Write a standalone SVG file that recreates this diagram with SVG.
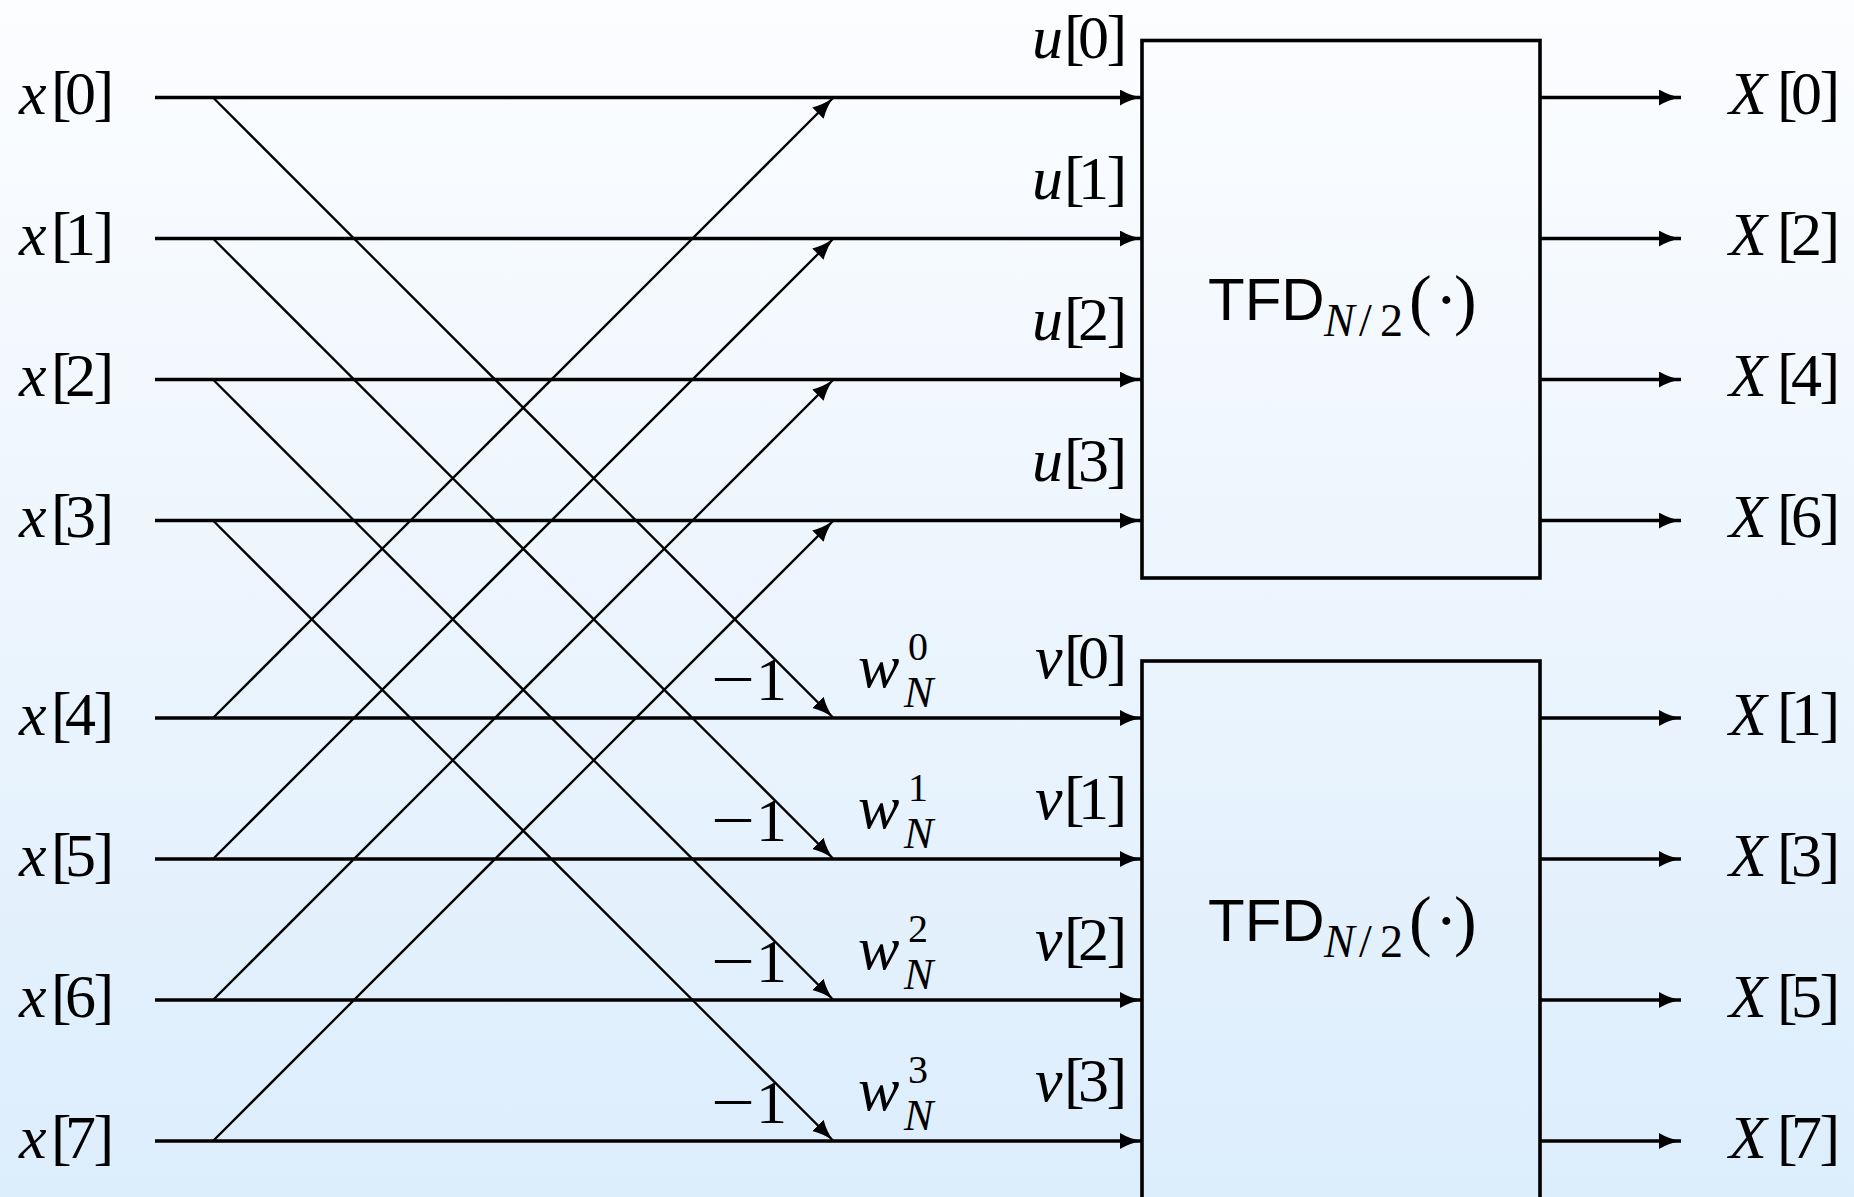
<svg xmlns="http://www.w3.org/2000/svg" width="1854" height="1197" viewBox="0 0 1854 1197">
<defs>
<linearGradient id="bg" x1="0" y1="0" x2="0" y2="1">
<stop offset="0" stop-color="#fcfdff"/>
<stop offset="1" stop-color="#dcedfc"/>
</linearGradient>
<marker id="arr" markerUnits="userSpaceOnUse" markerWidth="24" markerHeight="18" refX="22" refY="8" orient="auto" viewBox="0 0 24 18">
<path d="M0,0 Q10,6 22,8 Q10,10 0,16 Z" fill="#000"/>
</marker>
<style>
.h{stroke:#000;stroke-width:3.6;fill:none;marker-end:url(#arr)}
.d{stroke:#000;stroke-width:2.3;fill:none;marker-end:url(#arr)}
.box{stroke:#000;stroke-width:3.6;fill:none}
text{font-family:"Liberation Serif","Times New Roman",serif;font-size:62px;fill:#000}
.i{font-style:italic}
.sans{font-family:"Liberation Sans",Arial,sans-serif;font-size:60px}
.sm{font-size:46px}
.par{font-size:68px}
.sub{font-size:44px}
.sup{font-size:40px}
</style>
</defs>
<rect x="0" y="0" width="1854" height="1197" fill="url(#bg)"/>

<g id="connectors">
<line class="h" x1="155" y1="97.5" x2="1142" y2="97.5"/>
<line class="h" x1="155" y1="238.5" x2="1142" y2="238.5"/>
<line class="h" x1="155" y1="379.5" x2="1142" y2="379.5"/>
<line class="h" x1="155" y1="520.5" x2="1142" y2="520.5"/>
<line class="h" x1="155" y1="718" x2="1142" y2="718"/>
<line class="h" x1="155" y1="859" x2="1142" y2="859"/>
<line class="h" x1="155" y1="1000" x2="1142" y2="1000"/>
<line class="h" x1="155" y1="1141" x2="1142" y2="1141"/>

<line class="d" x1="213" y1="97.5" x2="833.5" y2="718"/>
<line class="d" x1="213" y1="238.5" x2="833.5" y2="859"/>
<line class="d" x1="213" y1="379.5" x2="833.5" y2="1000"/>
<line class="d" x1="213" y1="520.5" x2="833.5" y2="1141"/>
<line class="d" x1="213" y1="718" x2="833.5" y2="97.5"/>
<line class="d" x1="213" y1="859" x2="833.5" y2="238.5"/>
<line class="d" x1="213" y1="1000" x2="833.5" y2="379.5"/>
<line class="d" x1="213" y1="1141" x2="833.5" y2="520.5"/>

<line class="h" x1="1540" y1="97.5" x2="1681" y2="97.5"/>
<line class="h" x1="1540" y1="238.5" x2="1681" y2="238.5"/>
<line class="h" x1="1540" y1="379.5" x2="1681" y2="379.5"/>
<line class="h" x1="1540" y1="520.5" x2="1681" y2="520.5"/>
<line class="h" x1="1540" y1="718" x2="1681" y2="718"/>
<line class="h" x1="1540" y1="859" x2="1681" y2="859"/>
<line class="h" x1="1540" y1="1000" x2="1681" y2="1000"/>
<line class="h" x1="1540" y1="1141" x2="1681" y2="1141"/>
</g>

<g id="box-top">
<rect class="box" x="1142" y="40.5" width="398" height="537.5"/>
<text y="320"><tspan class="sans" x="1208">TFD</tspan><tspan class="sm i" x="1324" y="336">N</tspan><tspan class="sm" x="1359 1380" y="336">/2</tspan><tspan class="par" x="1409 1435 1454" y="322">(·)</tspan></text>
</g>
<g id="box-bottom">
<rect class="box" x="1142" y="661" width="398" height="560"/>
<text y="941"><tspan class="sans" x="1208">TFD</tspan><tspan class="sm i" x="1324" y="957">N</tspan><tspan class="sm" x="1359 1380" y="957">/2</tspan><tspan class="par" x="1409 1435 1454" y="943">(·)</tspan></text>
</g>

<g id="inputs">
<g id="in-0"><text y="114"><tspan class="i" x="19">x</tspan><tspan x="51 65 93.5">[0]</tspan></text></g>
<g id="in-1"><text y="255"><tspan class="i" x="19">x</tspan><tspan x="51 65 93.5">[1]</tspan></text></g>
<g id="in-2"><text y="396"><tspan class="i" x="19">x</tspan><tspan x="51 65 93.5">[2]</tspan></text></g>
<g id="in-3"><text y="537"><tspan class="i" x="19">x</tspan><tspan x="51 65 93.5">[3]</tspan></text></g>
<g id="in-4"><text y="734.5"><tspan class="i" x="19">x</tspan><tspan x="51 65 93.5">[4]</tspan></text></g>
<g id="in-5"><text y="875.5"><tspan class="i" x="19">x</tspan><tspan x="51 65 93.5">[5]</tspan></text></g>
<g id="in-6"><text y="1016.5"><tspan class="i" x="19">x</tspan><tspan x="51 65 93.5">[6]</tspan></text></g>
<g id="in-7"><text y="1157.5"><tspan class="i" x="19">x</tspan><tspan x="51 65 93.5">[7]</tspan></text></g>
</g>

<g id="u-labels">
<g id="u-0"><text y="58"><tspan class="i" x="1032">u</tspan><tspan x="1064 1078 1106.5">[0]</tspan></text></g>
<g id="u-1"><text y="199"><tspan class="i" x="1032">u</tspan><tspan x="1064 1078 1106.5">[1]</tspan></text></g>
<g id="u-2"><text y="340"><tspan class="i" x="1032">u</tspan><tspan x="1064 1078 1106.5">[2]</tspan></text></g>
<g id="u-3"><text y="481"><tspan class="i" x="1032">u</tspan><tspan x="1064 1078 1106.5">[3]</tspan></text></g>
</g>
<g id="v-labels">
<g id="v-0"><text y="678"><tspan class="i" x="1035">v</tspan><tspan x="1064 1078 1106.5">[0]</tspan></text></g>
<g id="v-1"><text y="819"><tspan class="i" x="1035">v</tspan><tspan x="1064 1078 1106.5">[1]</tspan></text></g>
<g id="v-2"><text y="960"><tspan class="i" x="1035">v</tspan><tspan x="1064 1078 1106.5">[2]</tspan></text></g>
<g id="v-3"><text y="1101"><tspan class="i" x="1035">v</tspan><tspan x="1064 1078 1106.5">[3]</tspan></text></g>
</g>

<g id="twiddles">
<g id="tw-0"><text x="711" y="700" textLength="44" lengthAdjust="spacingAndGlyphs">−</text><text x="756" y="700">1</text><text class="i" x="858" y="687">w</text><text class="sup" x="908" y="660">0</text><text class="sub i" x="904" y="707">N</text></g>
<g id="tw-1"><text x="711" y="841" textLength="44" lengthAdjust="spacingAndGlyphs">−</text><text x="756" y="841">1</text><text class="i" x="858" y="828">w</text><text class="sup" x="908" y="801">1</text><text class="sub i" x="904" y="848">N</text></g>
<g id="tw-2"><text x="711" y="982" textLength="44" lengthAdjust="spacingAndGlyphs">−</text><text x="756" y="982">1</text><text class="i" x="858" y="969">w</text><text class="sup" x="908" y="942">2</text><text class="sub i" x="904" y="989">N</text></g>
<g id="tw-3"><text x="711" y="1123" textLength="44" lengthAdjust="spacingAndGlyphs">−</text><text x="756" y="1123">1</text><text class="i" x="858" y="1110">w</text><text class="sup" x="908" y="1083">3</text><text class="sub i" x="904" y="1130">N</text></g>
</g>

<g id="outputs">
<g id="out-0"><text y="114"><tspan class="i" x="1729">X</tspan><tspan x="1777 1791 1819.5">[0]</tspan></text></g>
<g id="out-2"><text y="255"><tspan class="i" x="1729">X</tspan><tspan x="1777 1791 1819.5">[2]</tspan></text></g>
<g id="out-4"><text y="396"><tspan class="i" x="1729">X</tspan><tspan x="1777 1791 1819.5">[4]</tspan></text></g>
<g id="out-6"><text y="537"><tspan class="i" x="1729">X</tspan><tspan x="1777 1791 1819.5">[6]</tspan></text></g>
<g id="out-1"><text y="734.5"><tspan class="i" x="1729">X</tspan><tspan x="1777 1791 1819.5">[1]</tspan></text></g>
<g id="out-3"><text y="875.5"><tspan class="i" x="1729">X</tspan><tspan x="1777 1791 1819.5">[3]</tspan></text></g>
<g id="out-5"><text y="1016.5"><tspan class="i" x="1729">X</tspan><tspan x="1777 1791 1819.5">[5]</tspan></text></g>
<g id="out-7"><text y="1157.5"><tspan class="i" x="1729">X</tspan><tspan x="1777 1791 1819.5">[7]</tspan></text></g>
</g>
</svg>
